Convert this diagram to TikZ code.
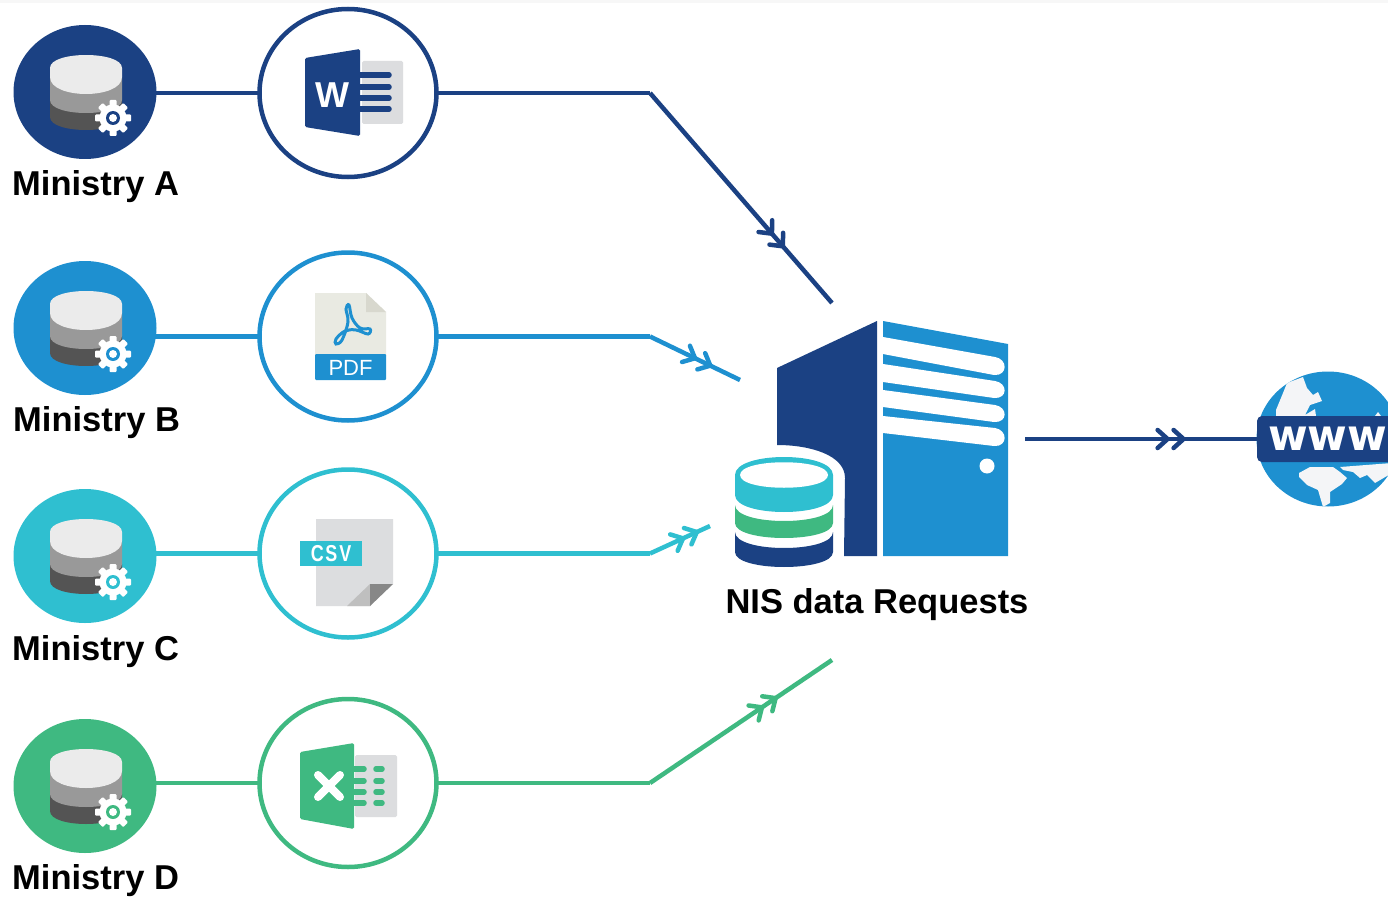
\documentclass[tikz,border=0pt]{standalone}
\usepackage{fontspec}
\setmainfont{Liberation Sans}
\newfontfamily\wwwfont{DejaVu Sans}
\usetikzlibrary{shapes.geometric,decorations.markings,calc}
\definecolor{navy}{HTML}{1B4183}
\definecolor{sky}{HTML}{1E90D0}
\definecolor{teal2}{HTML}{2FBFD0}
\definecolor{green2}{HTML}{3FB981}
\definecolor{sheet}{HTML}{DCDDDF}
\definecolor{paper}{HTML}{E9EAE2}
\definecolor{foldc}{HTML}{D8D8CE}
\definecolor{land}{HTML}{F4F5F7}
\newcommand\fsz[1]{\fontsize{#1}{#1}\selectfont}
\newcommand\barrel[7]{\fill[#7] (#1-#2,#3) .. controls (#1-#2,#3+1.333*#5) and (#1+#2,#3+1.333*#5) .. (#1+#2,#3) -- (#1+#2,#4) .. controls (#1+#2,#4+1.333*#6) and (#1-#2,#4+1.333*#6) .. (#1-#2,#4) -- cycle;}
\newcommand\dbicon[2]{\begin{scope}[shift={(#1.center)}]
 \barrel{1}{36}{8}{25}{0}{13}{black!67}
 \barrel{1}{36}{-15}{8}{0}{13}{black!40}
 \barrel{1}{36}{-24}{-15}{-13}{17}{black!8}
 \begin{scope}[shift={(28,26)}]
  \foreach \a in {0,45,90,135}{\fill[white,rotate=\a,rounded corners=1pt] (-3.5,-18) rectangle (3.5,18);}
  \fill[white] (0,0) circle[radius=13.5];
  \fill[#2] (0,0) circle[radius=7];
  \fill[white] (0,0) circle[radius=4];
 \end{scope}
\end{scope}}
\newcommand\chevron{\draw[line width=4.5pt,line cap=round,line join=round] (-10,-9) -- (0,0) -- (-10,9);}
\tikzset{
 minnode/.style={ellipse,minimum width=143pt,minimum height=134pt,inner sep=0pt,outer sep=0pt,fill=#1},
 docnode/.style={ellipse,minimum width=177pt,minimum height=168pt,inner sep=0pt,outer sep=0pt,draw=#1,line width=4.5pt,fill=white},
 conn/.style={draw=#1,line width=4.5pt,line cap=butt,line join=round},
 chevs/.style 2 args={postaction={decorate},decoration={markings,mark=at position #1 with {\chevron},mark=at position #2 with {\chevron}}},
 lab/.style={anchor=base west,inner sep=0pt,font=\bfseries\fsz{34.5}},
 iconline/.style={line width=5.5pt,line cap=round}
}
\begin{document}
\begin{tikzpicture}[x=1pt,y=-1pt]
\useasboundingbox (0,0) rectangle (1388,896);
\fill[black!3] (0,0) rectangle (1388,3);
% ministries
\node[minnode=navy]   (minA) at (85,92) {};
\node[minnode=sky]    (minB) at (85,328) {};
\node[minnode=teal2]  (minC) at (85,556) {};
\node[minnode=green2] (minD) at (85,786) {};
\node[docnode=navy]   (docA) at (348,93) {};
\node[docnode=sky]    (docB) at (348,336.5) {};
\node[docnode=teal2]  (docC) at (348,553.5) {};
\node[docnode=green2] (docD) at (348,783) {};
\dbicon{minA}{navy}\dbicon{minB}{sky}\dbicon{minC}{teal2}\dbicon{minD}{green2}
\node[lab] (labA) at (12,196) {Ministry A};
\node[lab] (labB) at (13,431) {Ministry B};
\node[lab] (labC) at (12,660) {Ministry C};
\node[lab] (labD) at (12,889) {Ministry D};
\node[lab,anchor=base] (nis) at (877,613) {NIS data Requests};
% connector coordinates
\coordinate (bendA) at (650,93);  \coordinate (endA) at (832,303);
\coordinate (bendB) at (650,336.5); \coordinate (endB) at (740,380);
\coordinate (bendC) at (650,553.5); \coordinate (endC) at (710,526);
\coordinate (bendD) at (650,783); \coordinate (endD) at (832,660);
\coordinate (srvOut) at (1025,439);
% connectors
\draw[conn=navy]   ([xshift=-2pt]minA.east |- docA.west) -- (docA.west);
\draw[conn=sky]    ([xshift=-2pt]minB.east |- docB.west) -- (docB.west);
\draw[conn=teal2]  ([xshift=-2pt]minC.east |- docC.west) -- (docC.west);
\draw[conn=green2] ([xshift=-2pt]minD.east |- docD.west) -- (docD.west);
\draw[conn=navy]   (docA.east) -- (bendA);
\draw[conn=sky]    (docB.east) -- (bendB);
\draw[conn=teal2]  (docC.east) -- (bendC);
\draw[conn=green2] (docD.east) -- (bendD);
\draw[conn=navy,chevs={0.67}{0.73}]   (bendA) -- (endA);
\draw[conn=sky,chevs={0.50}{0.67}]    (bendB) -- (endB);
\draw[conn=teal2,chevs={0.55}{0.78}]  (bendC) -- (endC);
\draw[conn=green2,chevs={0.615}{0.69}] (bendD) -- (endD);
% Word icon
\fill[sheet,rounded corners=1.5pt] (362,61) rectangle (403,124);
\fill[navy,rounded corners=1.5pt] (305,58) -- (360,49) -- (360,136) -- (305,127) -- cycle;
\foreach \y in {75,87,98,109}{\draw[navy,iconline] (360,\y) -- (389,\y);}
\node[text=white,font=\bfseries\fsz{36},inner sep=0pt] (wordW) at (332,95) {W};
% PDF icon
\fill[paper] (315,293) -- (366,293) -- (386,312) -- (386,356) -- (315,356) -- cycle;
\fill[foldc] (366,293) -- (386,312) -- (366,312) -- cycle;
\fill[sky,rounded corners=1pt] (315,354) rectangle (386,380);
\draw[sky,line width=3pt] plot[smooth cycle,tension=0.6] coordinates {(349,305) (352,318) (360,328) (370,329) (368,334) (356,330) (345,331) (336,339) (336,344) (342,340) (348,322) (346,309)};
\node[text=white,font=\fsz{22},inner sep=0pt] (pdfT) at (350.5,367.5) {PDF};
% CSV icon
\fill[sheet] (316,519) -- (393,519) -- (393,584) -- (370,606) -- (316,606) -- cycle;
\fill[black!25] (370,584) -- (370,606) -- (347,606) -- cycle;
\fill[black!47] (370,584) -- (393,584) -- (370,606) -- cycle;
\fill[teal2] (300,541) rectangle (362,566);
\node[text=white,font=\bfseries\fsz{23}\addfontfeatures{LetterSpace=10},inner sep=0pt,xscale=0.78] (csvT) at (331,553.5) {CSV};
% Excel icon
\fill[sheet,rounded corners=1.5pt] (355,755) rectangle (397,817);
\fill[green2,rounded corners=1.5pt] (300,752) -- (354,743) -- (354,829) -- (300,819) -- cycle;
\foreach \y in {769,781,792,803}{\draw[green2,iconline] (354,\y) -- (364,\y);\draw[green2,iconline] (376,\y) -- (382,\y);}
\draw[white,line width=8pt,line cap=round] (318,775) -- (340,797) (340,775) -- (318,797);
% Server
\fill[navy] (777,368) -- (877,321) -- (877,556) -- (844,556) -- (845,478) .. controls (845,455) and (810,445) .. (777,445) -- cycle;
\fill[sky] (883,321) -- (1008,344) -- (1008,556) -- (883,556) -- cycle;
\fill[white] (883,337) -- (995,357) .. controls (1008,359) and (1008,376) .. (994,375) -- (883,354) -- cycle;
\fill[white] (883,364) -- (995,381) .. controls (1008,383) and (1008,399) .. (994,398) -- (883,382) -- cycle;
\fill[white] (883,390) -- (995,405) .. controls (1008,407) and (1008,423) .. (994,422) -- (883,407) -- cycle;
\fill[white] (883,416) -- (995,428) .. controls (1008,430) and (1008,447) .. (994,446) -- (883,433) -- cycle;
\fill[white] (987,466) circle[radius=7.5];
% database
\barrel{784}{49}{532}{552}{16}{15}{navy}
\barrel{784}{49}{505}{523}{16}{15}{green2}
\barrel{784}{49}{475}{495}{0}{17}{teal2}
\fill[teal2] (735,475) .. controls (735,451) and (833,451) .. (833,475) .. controls (833,499) and (735,499) .. (735,475) -- cycle;
\fill[white] (740,475) .. controls (740,458) and (828,458) .. (828,475) .. controls (828,492) and (740,492) .. (740,475) -- cycle;
% globe
\node[ellipse,minimum width=143pt,minimum height=135pt,inner sep=0pt,outer sep=0pt,fill=sky] (globe) at (1328,439) {};
\draw[conn=navy,chevs={0.616}{0.685}] (srvOut) -- (globe.west);
\begin{scope}
\clip (1328,439) ellipse[x radius=71.5,y radius=67.5];
\fill[land] (1287,383) -- (1303,377) -- (1307,388) -- (1313,395) -- (1318,392) -- (1322,401) -- (1310,405) -- (1305,415) -- (1315,409) -- (1316,416) -- (1276,416) -- (1276,410) -- (1283,393) -- cycle;
\fill[land] (1375,416) -- (1378,412) -- (1381,416) -- cycle;
\fill[land] (1299,473) -- (1310,467) -- (1333,467) -- (1340,472) -- (1347,478) -- (1342,484) -- (1330,492) -- (1330,503) -- (1323,507) -- (1318,490) -- (1307,485) -- (1299,477) -- cycle;
\fill[land] (1340,467) -- (1392,463) -- (1392,473) -- (1375,483) -- (1367,475) -- (1360,478) -- (1353,472) -- (1343,470) -- cycle;
\end{scope}
\begin{scope}
\clip (0,0) rectangle (1388,896);
\fill[navy,rounded corners=5pt] (1257,416) rectangle (1400,462);
\node[text=white,font=\wwwfont\bfseries\fsz{43},inner sep=0pt,anchor=base west] (www) at (1268,450) {www};
\end{scope}
\end{tikzpicture}
\end{document}
